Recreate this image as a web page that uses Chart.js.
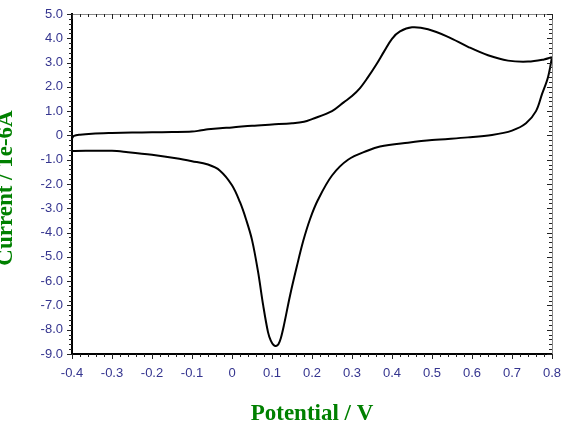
<!DOCTYPE html>
<html>
<head>
<meta charset="utf-8">
<script src="https://cdn.jsdelivr.net/npm/chart.js@4"></script>
<style>
    html, body { margin: 0; padding: 0; background: #fff; }
</style>
</head>
<body>
<canvas id="cvChart" width="564" height="428"></canvas>
<script>
// === Data ===
const forwardPotential = [-0.4, -0.395, -0.38, -0.35, -0.3, -0.25, -0.2, -0.15, -0.1, -0.08, -0.06, -0.03, 0.0,
    0.05, 0.1, 0.15, 0.18, 0.2, 0.25, 0.28, 0.3, 0.32, 0.34, 0.36, 0.38, 0.4, 0.42, 0.45, 0.49,
    0.54, 0.59, 0.64, 0.69, 0.74, 0.78, 0.8];
const forwardCurrent = [-0.12, -0.02, 0.03, 0.07, 0.1, 0.12, 0.13, 0.14, 0.16, 0.2, 0.25, 0.3, 0.33,
    0.4, 0.45, 0.5, 0.56, 0.67, 1.0, 1.37, 1.62, 1.95, 2.4, 2.9, 3.45, 3.98, 4.28, 4.45, 4.37,
    4.06, 3.65, 3.3, 3.08, 3.04, 3.13, 3.22];

const reversePotential = [-0.4, -0.3, -0.26, -0.2, -0.14, -0.1, -0.06, -0.03, 0.0, 0.02, 0.035, 0.05,
    0.065, 0.078, 0.09, 0.097, 0.104, 0.11, 0.116, 0.122, 0.13, 0.145, 0.162, 0.178, 0.195, 0.215,
    0.25, 0.29, 0.34, 0.37, 0.44, 0.5, 0.59, 0.65, 0.7, 0.735, 0.76, 0.775, 0.79, 0.8];
const reverseCurrent = [-0.64, -0.63, -0.69, -0.8, -0.94, -1.06, -1.2, -1.45, -2.05, -2.75, -3.45, -4.3,
    -5.6, -7.0, -8.1, -8.45, -8.63, -8.67, -8.6, -8.35, -7.8, -6.6, -5.4, -4.35, -3.45, -2.65,
    -1.65, -1.0, -0.62, -0.46, -0.3, -0.19, -0.08, 0.02, 0.2, 0.5, 1.0, 1.7, 2.4, 3.22];

const xTickValues = [-0.4, -0.3, -0.2, -0.1, 0, 0.1, 0.2, 0.3, 0.4, 0.5, 0.6, 0.7, 0.8];
const yTickValues = [5, 4, 3, 2, 1, 0, -1, -2, -3, -4, -5, -6, -7, -8, -9];

const xTitle = "Potential / V";
const yTitle = "Current / 1e-6A";

const labelBlue = "#35358f";
const titleGreen = "#008000";

function toPoints(xs, ys) {
    return xs.map((v, i) => ({ x: v, y: ys[i] }));
}

function fmtTick(v) {
    if (Math.abs(v) < 1e-9) return "0";
    return v.toFixed(1);
}

// minor/major ticks on all four sides + rotated y title
const frameTicks = {
    id: "frameTicks",
    afterDraw(chart) {
        const { ctx, chartArea: a, scales: { x, y } } = chart;
        ctx.save();

        ctx.strokeStyle = "#8a8a8a";
        ctx.lineWidth = 1;
        ctx.beginPath();
        ctx.moveTo(a.left, a.top + 0.5);
        ctx.lineTo(a.right + 1, a.top + 0.5);
        ctx.moveTo(a.right + 0.5, a.top);
        ctx.lineTo(a.right + 0.5, a.bottom);
        ctx.stroke();

        ctx.strokeStyle = "#222";
        ctx.beginPath();
        for (let i = 0; i <= 60; i++) {
            const px = Math.round(x.getPixelForValue(x.min + i * 0.02)) + 0.5;
            const len = i % 5 === 0 ? 5 : 3;
            ctx.moveTo(px, a.bottom);
            ctx.lineTo(px, a.bottom + len);
            ctx.moveTo(px, a.top);
            ctx.lineTo(px, a.top + len);
        }
        for (let i = 0; i <= 70; i++) {
            const py = Math.round(y.getPixelForValue(y.min + i * 0.2)) + 0.5;
            const len = i % 5 === 0 ? 5 : 3;
            ctx.moveTo(a.left - len, py);
            ctx.lineTo(a.left, py);
            ctx.moveTo(a.right, py);
            ctx.lineTo(a.right - len, py);
        }
        ctx.stroke();

        // y title sits partly off the left edge, as in the original
        ctx.translate(12, 188);
        ctx.rotate(-Math.PI / 2);
        ctx.font = "bold 23px 'Liberation Serif'";
        ctx.fillStyle = titleGreen;
        ctx.textAlign = "center";
        ctx.textBaseline = "alphabetic";
        ctx.fillText(yTitle, 0, 0);
        ctx.restore();
    }
};

const lineStyle = {
    borderColor: "#000",
    borderWidth: 2,
    pointRadius: 0,
    fill: false,
    tension: 0.35
};

new Chart(document.getElementById("cvChart"), {
    type: "line",
    data: {
        datasets: [
            Object.assign({ label: "forward", data: toPoints(forwardPotential, forwardCurrent) }, lineStyle),
            Object.assign({ label: "reverse", data: toPoints(reversePotential, reverseCurrent) }, lineStyle)
        ]
    },
    options: {
        responsive: false,
        animation: false,
        layout: { padding: { left: 0, right: 12, top: 14, bottom: 0 } },
        plugins: {
            legend: { display: false },
            tooltip: { enabled: false }
        },
        scales: {
            x: {
                type: "linear",
                min: -0.4,
                max: 0.8,
                afterBuildTicks: s => { s.ticks = xTickValues.map(v => ({ value: v })); },
                afterFit: s => { s.height = 74; s.paddingLeft = 0; s.paddingRight = 0; },
                grid: { display: false, drawTicks: false },
                border: { display: true, color: "#000", width: 2 },
                ticks: {
                    color: labelBlue,
                    padding: 12,
                    maxRotation: 0,
                    autoSkip: false,
                    font: { family: "'Liberation Sans'", size: 13 },
                    callback: v => fmtTick(v)
                },
                title: {
                    display: true,
                    text: xTitle,
                    color: titleGreen,
                    padding: { top: 0, bottom: 0 },
                    font: { family: "'Liberation Serif'", size: 23, weight: "bold" }
                }
            },
            y: {
                type: "linear",
                min: -9,
                max: 5,
                afterBuildTicks: s => { s.ticks = yTickValues.map(v => ({ value: v })); },
                afterFit: s => { s.width = 72; s.paddingTop = 0; s.paddingBottom = 0; },
                grid: { display: false, drawTicks: false },
                border: { display: true, color: "#000", width: 2 },
                ticks: {
                    color: labelBlue,
                    padding: 9,
                    autoSkip: false,
                    font: { family: "'Liberation Sans'", size: 13 },
                    callback: v => fmtTick(v)
                }
            }
        }
    },
    plugins: [frameTicks]
});
</script>
</body>
</html>
